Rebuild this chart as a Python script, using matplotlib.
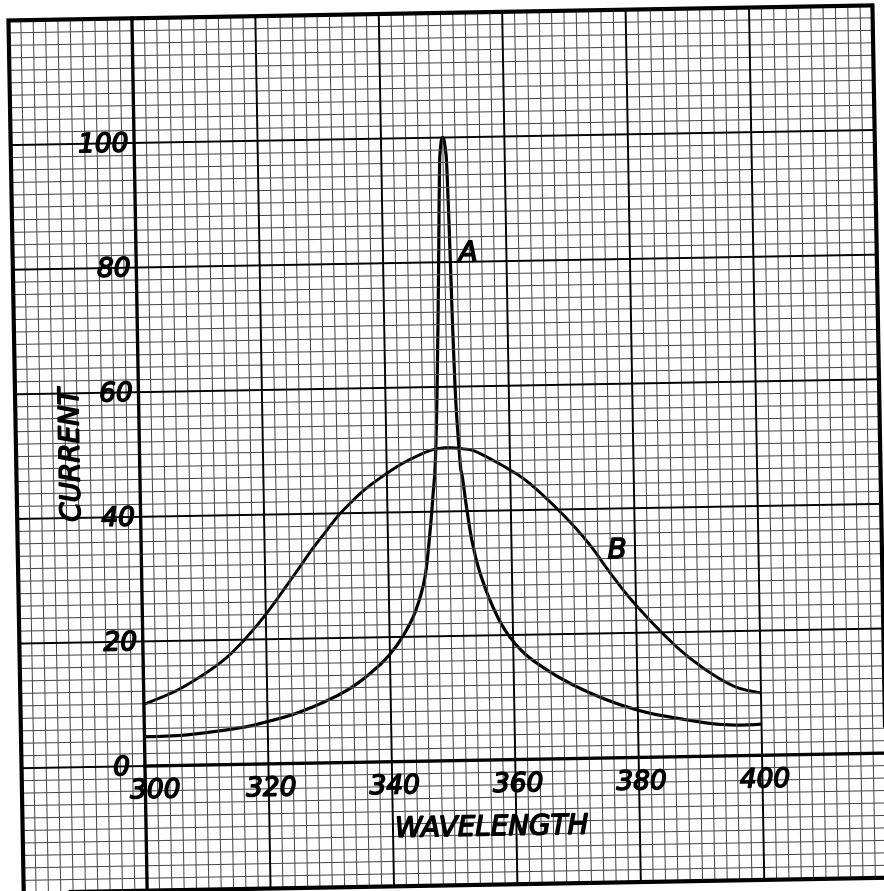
import matplotlib
matplotlib.use('Agg')
import matplotlib.pyplot as plt
from matplotlib.transforms import Affine2D
from matplotlib.path import Path
from matplotlib.patches import PathPatch
import matplotlib.patheffects as pe

# Curve A - sharp resonance
a_wave = [300, 305.6, 311, 316.4, 319.6, 323.9, 328.3, 332.6, 335.8, 339.2,
          341.8, 344.1, 345.8, 346.7, 347.4, 347.9, 348.4, 349.0, 349.4, 349.7,
          350.0, 350.3, 350.6, 350.9, 351.3, 351.9, 352.3, 353.3, 354.5, 356.3,
          358.6, 361.7, 366.0, 370.8, 376.1, 381.4, 386.8, 392.1, 396.4, 400]
a_current = [4.7, 4.8, 5.3, 6.0, 6.7, 7.8, 9.4, 11.4, 13.5, 16.4,
             19.6, 23.7, 29.1, 35.5, 42.4, 48, 60, 80, 95, 99,
             100, 99, 95, 80, 60, 48, 45, 37.1, 31.2, 25.8,
             21.0, 17.1, 13.9, 11.2, 8.9, 7.2, 6.1, 5.2, 4.9, 5.0]

# Curve B - broad resonance
b_wave = [300, 305.7, 311.7, 315.5, 320.0, 325.5, 327.6, 329.8, 331.9, 334.1,
          336.2, 338.4, 340.5, 342.7, 344.8, 347.0, 349.1, 350.8, 352.4, 354.3,
          358.1, 362.2, 365.9, 369.7, 372.8, 375.9, 379.1, 383.3, 387.5, 391.8,
          396.0, 400]
b_current = [9.9, 12.2, 15.8, 19.0, 24.0, 31.3, 34.2, 36.9, 39.5, 41.7,
             43.6, 45.2, 46.6, 47.9, 48.9, 49.8, 50.2, 50.2, 50.0, 49.6,
             47.6, 45.0, 41.7, 37.8, 34.1, 29.7, 25.5, 20.8, 16.7, 13.4,
             11.0, 10.0]

x_ticks = [300, 320, 340, 360, 380, 400]
y_ticks = [0, 20, 40, 60, 80, 100]


# Smooth pen stroke through the read points (Catmull-Rom as cubic Beziers)
def smooth_path(xs, ys):
    pts = list(zip(xs, ys))
    n = len(pts)
    verts = [pts[0]]
    codes = [Path.MOVETO]
    for i in range(n - 1):
        p0 = pts[max(i - 1, 0)]
        p1 = pts[i]
        p2 = pts[i + 1]
        p3 = pts[min(i + 2, n - 1)]
        c1 = (p1[0] + (p2[0] - p0[0]) / 6, p1[1] + (p2[1] - p0[1]) / 6)
        c2 = (p2[0] - (p3[0] - p1[0]) / 6, p2[1] - (p3[1] - p1[1]) / 6)
        verts += [c1, c2, p2]
        codes += [Path.CURVE4] * 3
    return Path(verts, codes)


fig = plt.figure(figsize=(8.84, 8.91), dpi=100)
ax = fig.add_axes([0, 0, 1, 1])
ax.set_xlim(277.41, 420.64)
ax.set_ylim(-20.89, 122.08)
ax.axis('off')

# the scanned sheet sits about one degree off square
tr = ax.transData + Affine2D().rotate_deg_around(442, 445.5, 1.0)

font = dict(family='DejaVu Sans', style='italic', color='black',
            path_effects=[pe.withStroke(linewidth=1.1, foreground='black')])

# graph paper: fine rulings every 2 units, heavier every 20
for x in range(282, 420, 2):
    if x % 20 == 0:
        continue
    ax.plot([x, x], [-20, 120], color='#4a4a4a', lw=0.75, transform=tr)
for y in range(-18, 120, 2):
    if y % 20 == 0:
        continue
    ax.plot([280, 420], [y, y], color='#4a4a4a', lw=0.75, transform=tr)
for x in range(320, 420, 20):
    ax.plot([x, x], [-20, 120], color='black', lw=1.4, transform=tr)
for y in range(20, 120, 20):
    ax.plot([280, 420], [y, y], color='black', lw=1.4, transform=tr)
ax.plot([280, 300], [0, 0], color='black', lw=1.4, transform=tr)

# axes
ax.plot([300, 300], [-20, 120], color='black', lw=2.4, transform=tr)
ax.plot([300, 420], [0, 0], color='black', lw=2.4, transform=tr)

# border of the sheet
ax.plot([280, 420, 420, 280, 280], [-20, -20, 120, 120, -20],
        color='black', lw=3.0, transform=tr, solid_joinstyle='miter')

# curves
ax.add_patch(PathPatch(smooth_path(a_wave, a_current), fill=False,
                       edgecolor='black', lw=2.3, transform=tr,
                       joinstyle='round', capstyle='butt'))
ax.add_patch(PathPatch(smooth_path(b_wave, b_current), fill=False,
                       edgecolor='black', lw=2.1, transform=tr,
                       joinstyle='round', capstyle='butt'))

# tick labels
for v in x_ticks:
    xp = v + 1.6 if v == 300 else v + 0.4
    ax.text(xp, -4.0, str(v), ha='center', va='center', fontsize=19,
            rotation=1, transform=tr, **font)
for v in y_ticks:
    xp = 297.6 if v == 0 else 299.1
    ax.text(xp, v - 0.3, str(v), ha='right', va='center', fontsize=19,
            rotation=1, transform=tr, **font)

ax.text(356.0, -10.8, 'WAVELENGTH', ha='center', va='center', fontsize=20,
        rotation=1, transform=tr, **font)
ax.text(288.9, 50.1, 'CURRENT', ha='center', va='center', fontsize=20,
        rotation=91, transform=tr, **font)
ax.text(353.8, 81.4, 'A', ha='center', va='center', fontsize=20,
        rotation=1, transform=tr, **font)
ax.text(377.1, 33.3, 'B', ha='center', va='center', fontsize=20,
        rotation=1, transform=tr, **font)

fig.savefig('out.png', dpi=100, facecolor='white')
